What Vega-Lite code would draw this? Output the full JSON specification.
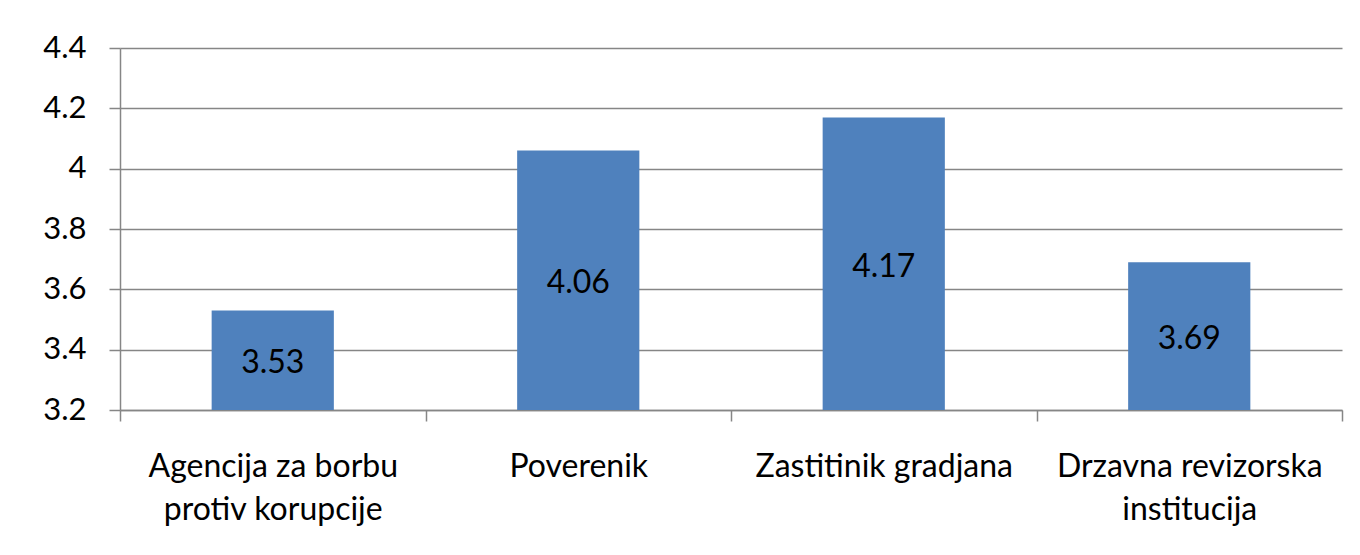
{
  "$schema": "https://vega.github.io/schema/vega-lite/v6.json",
  "autosize": "none",
  "width": 1222,
  "height": 362,
  "padding": {"left": 120, "top": 48, "right": 18, "bottom": 145},
  "background": "white",
  "config": {
    "view": {"stroke": null},
    "font": "Lato",
    "axis": {
      "labelFont": "Lato",
      "labelFontSize": 31,
      "labelColor": "#000000",
      "domainColor": "#868686",
      "tickColor": "#868686",
      "gridColor": "#868686",
      "domainWidth": 1.5,
      "tickWidth": 1.5,
      "gridWidth": 1.5,
      "tickSize": 11,
      "title": null
    }
  },
  "data": {
    "values": [
      {"institution": "Agencija za borbu protiv korupcije", "value": 3.53},
      {"institution": "Poverenik", "value": 4.06},
      {"institution": "Zastitinik gradjana", "value": 4.17},
      {"institution": "Drzavna revizorska institucija", "value": 3.69}
    ]
  },
  "encoding": {
    "x": {
      "field": "institution",
      "type": "nominal",
      "sort": null,
      "scale": {"paddingInner": 0, "paddingOuter": 0},
      "axis": {
        "labelAngle": 0,
        "tickBand": "extent",
        "labelPadding": 30,
        "labelFontSize": 32,
        "labelLineHeight": 43,
        "labelBaseline": "top",
        "labelLimit": 400,
        "labelExpr": "datum.value == 'Agencija za borbu protiv korupcije' ? ['Agencija za borbu', 'protiv korupcije'] : datum.value == 'Drzavna revizorska institucija' ? ['Drzavna revizorska', 'institucija'] : datum.value"
      }
    }
  },
  "layer": [
    {
      "mark": {"type": "bar", "color": "#4F81BD", "width": {"band": 0.4}, "clip": true},
      "encoding": {
        "y": {
          "field": "value",
          "type": "quantitative",
          "scale": {"domain": [3.2, 4.4], "zero": false, "nice": false},
          "axis": {
            "values": [3.2, 3.4, 3.6, 3.8, 4.0, 4.2, 4.4],
            "format": ".1~f",
            "grid": true,
            "labelPadding": 23
          }
        }
      }
    },
    {
      "transform": [{"calculate": "(datum.value + 3.2) / 2", "as": "mid"}],
      "mark": {"type": "text", "fontSize": 32, "font": "Lato", "color": "#000000", "baseline": "middle", "dy": 3},
      "encoding": {
        "y": {"field": "mid", "type": "quantitative"},
        "text": {"field": "value", "type": "quantitative", "format": ".2f"}
      }
    }
  ]
}
